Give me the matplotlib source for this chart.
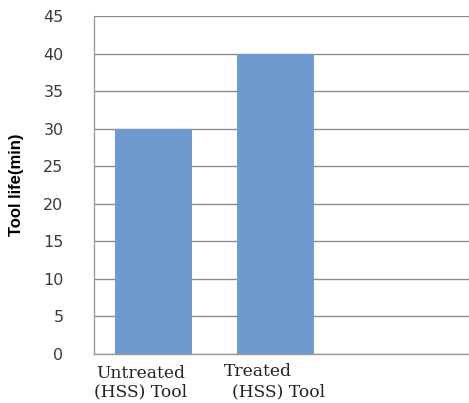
import matplotlib
matplotlib.use("Agg")
import matplotlib.pyplot as plt
from matplotlib.transforms import blended_transform_factory

categories = ["Untreated\n(HSS) Tool", "Treated\n(HSS) Tool"]
tool_life = [30, 40]
y_ticks = [0, 5, 10, 15, 20, 25, 30, 35, 40, 45]

fig = plt.figure(figsize=(4.69, 4.03), dpi=100)
ax = fig.add_axes([94/469, 49/403, 378/469, 338/403])

x = list(range(len(categories)))
ax.bar(x, tool_life, width=0.63, color="#6F9ACF", zorder=3)

ax.set_xlim(-0.49, 2.61)
ax.set_ylim(0, 45)
ax.set_yticks(y_ticks)
ax.yaxis.grid(True, color="#8C8C8C", linewidth=1.0, zorder=0)
ax.set_axisbelow(True)

for side in ["top", "right"]:
    ax.spines[side].set_visible(False)
for side in ["left", "bottom"]:
    ax.spines[side].set_color("#9A9A9A")
    ax.spines[side].set_linewidth(1.0)

ax.tick_params(axis="y", length=0, pad=22, labelsize=11.5, labelcolor="#3A3A3A")
ax.set_xticks(x)
ax.set_xticklabels([])
ax.tick_params(axis="x", length=0)

# category labels, line by line (Excel-like wrapped layout)
trans = blended_transform_factory(ax.transData, fig.transFigure)
line_offsets = [[-0.11, -0.11], [-0.15, 0.02]]
line_y = [[374, 392], [372, 392]]
for i, lab in enumerate(categories):
    for j, line in enumerate(lab.split("\n")):
        ax.text(x[i] + line_offsets[i][j], 1 - line_y[i][j] / 403, line,
                transform=trans, ha="center", va="center", fontsize=12.3,
                family=["DejaVu Serif"], color="#222222")

ax.set_ylabel("Tool life(min)", fontsize=12, fontweight="bold",
              family=["Liberation Sans"], labelpad=14)

fig.savefig("out.png", dpi=100)
